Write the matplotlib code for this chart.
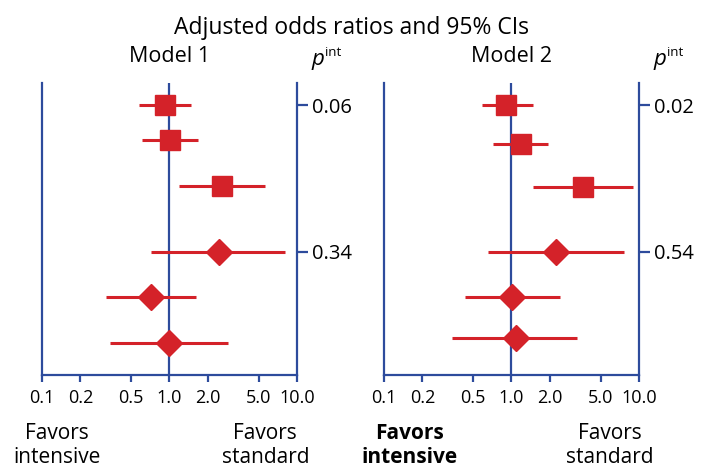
import matplotlib
matplotlib.use("Agg")
import matplotlib.pyplot as plt
from matplotlib.ticker import FixedLocator, NullLocator

plt.rcParams['font.family'] = ['Open Sans', 'Noto Sans', 'DejaVu Sans']

BLUE = "#2d4b9c"
RED = "#d42229"

# odds ratios with 95% CI, one entry per row (top to bottom)
markers = ['s', 's', 's', 'D', 'D', 'D']

m1_or = [0.92, 1.01, 2.58, 2.43, 0.72, 1.00]
m1_lo = [0.58, 0.61, 1.18, 0.72, 0.32, 0.34]
m1_hi = [1.47, 1.66, 5.57, 8.08, 1.61, 2.88]
m1_rows = [0.50, 1.27, 2.30, 3.76, 4.76, 5.78]

m2_or = [0.91, 1.18, 3.62, 2.23, 1.01, 1.09]
m2_lo = [0.59, 0.71, 1.48, 0.65, 0.43, 0.34]
m2_hi = [1.47, 1.92, 9.00, 7.60, 2.39, 3.27]
m2_rows = [0.50, 1.36, 2.32, 3.76, 4.77, 5.68]

# interaction p-values, shown next to the first row of each group
p_rows = [0, 3]
m1_p = ["0.06", "0.34"]
m2_p = ["0.02", "0.54"]

xticks = [0.1, 0.2, 0.5, 1.0, 2.0, 5.0, 10.0]
xlabels = ["0.1", "0.2", "0.5", "1.0", "2.0", "5.0", "10.0"]

fig = plt.figure(figsize=(7.03, 4.68), dpi=100)


def panel(rect, odds, lo, hi, rows, pvals, title, left_x, right_x, bold_left):
    ax = fig.add_axes(rect)
    ax.set_xscale('log')
    ax.set_xlim(0.1, 10)
    ax.set_ylim(6.5, 0)

    ax.axvline(1.0, color=BLUE, lw=1.6, zorder=1)
    for o, l, h, y, m in zip(odds, lo, hi, rows, markers):
        ax.plot([l, h], [y, y], color=RED, lw=2.2, solid_capstyle='butt', zorder=2)
        ms = 15 if m == 's' else 13
        ax.plot(o, y, marker=m, ms=ms, color=RED, mec=RED, zorder=3)

    ax.spines['top'].set_visible(False)
    for side in ['left', 'right', 'bottom']:
        ax.spines[side].set_color(BLUE)
        ax.spines[side].set_linewidth(1.6)

    ax.xaxis.set_major_locator(FixedLocator(xticks))
    ax.xaxis.set_minor_locator(NullLocator())
    ax.set_xticklabels(xlabels)
    ax.tick_params(axis='x', direction='out', length=5, width=1.6, color=BLUE,
                   labelsize=13, pad=5)

    ax.yaxis.tick_right()
    ax.set_yticks([rows[i] for i in p_rows])
    ax.set_yticklabels(pvals)
    ax.tick_params(axis='y', direction='out', length=8, width=1.6, color=BLUE,
                   labelsize=14.5, pad=3)

    ax.text(0.5, 1.092, title, transform=ax.transAxes, ha='center',
            va='center', fontsize=15.5)
    ax.text(1.058, 1.082, "p", transform=ax.transAxes, ha='left', va='center',
            fontsize=16, style='italic')
    ax.text(1.11, 1.104, "int", transform=ax.transAxes, ha='left',
            va='center', fontsize=9.5)

    ax.text(left_x, -0.165, "Favors\nintensive", transform=ax.transAxes,
            ha='center', va='top', fontsize=15, linespacing=1.2,
            fontweight='bold' if bold_left else 'normal')
    ax.text(right_x, -0.165, "Favors\nstandard", transform=ax.transAxes,
            ha='center', va='top', fontsize=15, linespacing=1.2)
    return ax


panel([0.0597, 0.1987, 0.3627, 0.6239], m1_or, m1_lo, m1_hi, m1_rows, m1_p,
      "Model 1", 0.06, 0.876, False)
panel([0.5462, 0.1987, 0.3627, 0.6239], m2_or, m2_lo, m2_hi, m2_rows, m2_p,
      "Model 2", 0.10, 0.886, True)

fig.text(0.5, 0.94, "Adjusted odds ratios and 95% CIs", ha='center',
         va='center', fontsize=16.5)

fig.savefig("out.png", dpi=100)
